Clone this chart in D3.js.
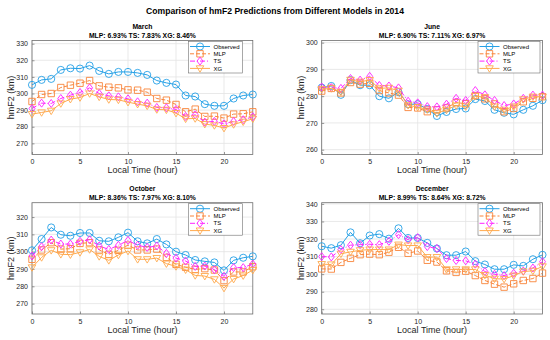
<!DOCTYPE html>
<html>
<head>
<meta charset="utf-8">
<script src="https://cdn.jsdelivr.net/npm/d3@7"></script>
<style>
  body { margin: 0; background: #fff; }
  svg { display: block; font-family: "Liberation Sans", Arial, sans-serif; }
</style>
</head>
<body>
<svg id="chart" width="550" height="340"></svg>
<script>
// hours 0..23
var hours = d3.range(0, 24);
var seriesNames = ["Observed", "MLP", "TS", "XG"];
var xTicks = [0, 5, 10, 15, 20];

// March
var marObs = [305.2, 308.2, 308.8, 314.2, 315.2, 315, 316.8, 313.6, 311.8, 313, 313, 312.4, 311.2, 307.8, 306.4, 305.4, 298.8, 298.2, 293.6, 292.6, 292.6, 297, 298.8, 299.4];
var marMLP = [295.2, 299.4, 300, 303.6, 305, 306.2, 307.8, 304.6, 303.8, 303.4, 302.2, 302, 300.8, 297, 296, 293.4, 289, 290.6, 286.2, 286.4, 285.2, 287.6, 287.8, 289];
var marTS = [291, 294.2, 294, 297, 299, 300.6, 303.4, 300, 298.6, 298, 296.8, 295, 294.2, 291.6, 291.4, 290.4, 286.2, 287.2, 282.8, 283.2, 281.8, 283.2, 284.2, 286];
var marXG = [287.6, 288.6, 289.6, 294, 296.6, 297.6, 300, 298, 296.4, 296.2, 294.8, 293.6, 292.6, 290.4, 290.2, 288.2, 284.8, 285, 281.6, 280.8, 279.2, 281.4, 283, 284.8];

// June
var junObs = [283.2, 283.8, 280.5, 286, 284.1, 284.1, 280, 279.2, 281.5, 277, 277, 275.2, 272.6, 274.1, 275.2, 275.4, 278.9, 278.2, 274.9, 273.8, 273.2, 274.9, 276.4, 278.5];
var junMLP = [281.9, 282.9, 281.2, 285.1, 284.5, 284.8, 282.1, 281.2, 280.4, 275.8, 275.6, 274.2, 274.9, 275.6, 277.6, 277.2, 280.2, 279, 277.1, 274.2, 275.4, 277.9, 279.2, 279.8];
var junTS = [283.4, 283.2, 282.9, 286.6, 286, 287.4, 284, 283.8, 283.1, 278.1, 277.5, 276.1, 276, 277, 279.2, 278.4, 282.1, 280.5, 278.4, 276.5, 277.1, 279.2, 280.4, 280.4];
var junXG = [282.6, 282.9, 281.6, 286.1, 285.4, 286, 282.9, 283.1, 282, 276.6, 275.9, 275, 273.6, 274.9, 276.5, 276.1, 280, 279.6, 276.1, 274.9, 276.1, 278.8, 279.8, 279.8];

// October
var octObs = [300.8, 307.3, 314, 309.8, 309.2, 310.8, 310.8, 306.3, 306, 308.3, 311, 306, 304.8, 307.3, 304.2, 300, 298.1, 295.2, 294.4, 293.8, 289.2, 295, 296.5, 297.3];
var octMLP = [295.6, 301, 305.2, 301.5, 301.7, 304.8, 305.2, 301, 298.5, 300.8, 303.8, 301, 301, 301.5, 296.7, 292.7, 291, 289.8, 290.2, 289.4, 283.3, 288.3, 288.3, 291.3];
var octTS = [297.5, 302.9, 306.7, 304.4, 304.4, 306, 306.9, 303.3, 301.3, 303.7, 306.5, 303.7, 302.5, 303.3, 299, 296.3, 294.6, 291.5, 291.7, 289.6, 285.8, 290.8, 290.8, 292.9];
var octXG = [290.9, 296.7, 300.8, 298.5, 298.3, 299.6, 301.3, 297.3, 295, 298.1, 300.4, 295.6, 295.6, 296.3, 293.1, 291.5, 289.6, 286.3, 285.9, 284, 279, 284.2, 286.2, 289.4];

// December
var decObs = [315.9, 314.8, 316.5, 323.8, 317.6, 322, 322.8, 320.2, 326.1, 320.6, 320.6, 317.8, 314.6, 310.8, 310.8, 312.9, 307.4, 305.5, 302.8, 302.8, 305.3, 304.7, 308.5, 311];
var decMLP = [303, 302.9, 306.7, 309, 311.1, 311.4, 311.1, 312.5, 315.3, 311.9, 313.2, 307.9, 306.9, 301.9, 301, 301.7, 299.2, 296.4, 294.3, 292.6, 294.5, 296.4, 297.5, 300.6];
var decTS = [310, 309.8, 314, 316.5, 316.8, 317, 316.8, 318.7, 322.5, 319.6, 320.8, 315.7, 314.6, 308.9, 307.8, 307.6, 305.7, 301.5, 299.9, 299.2, 300.5, 301.8, 303.5, 307.1];
var decXG = [305.7, 305.5, 311.6, 312.7, 313.6, 314, 314, 314, 316.8, 316.3, 316.3, 309.7, 309.7, 302.7, 302.7, 302.7, 302.7, 299.5, 297.4, 297.2, 299.1, 301.5, 301.9, 304.4];

var panels = [
  {name: "March", err: "MLP: 6.93%  TS: 7.83%  XG: 8.46%", data: [marObs, marMLP, marTS, marXG],
   y: [263.3, 331.9], yTicks: [270, 280, 290, 300, 310, 320, 330], left: 32, top: 40.5, bottom: 154.5, legX: 188.5, legW: 54},
  {name: "June", err: "MLP: 6.90%  TS: 7.11%  XG: 6.97%", data: [junObs, junMLP, junTS, junXG],
   y: [258.2, 300.8], yTicks: [260, 270, 280, 290, 300], left: 321.7, top: 40.5, bottom: 154.5, legX: 478, legW: 62},
  {name: "October", err: "MLP: 8.36%  TS: 7.97%  XG: 8.10%", data: [octObs, octMLP, octTS, octXG],
   y: [264, 328.3], yTicks: [270, 280, 290, 300, 310, 320], left: 32, top: 202.7, bottom: 314, legX: 188.5, legW: 54},
  {name: "December", err: "MLP: 8.99%  TS: 8.64%  XG: 8.72%", data: [decObs, decMLP, decTS, decXG],
   y: [277.3, 340.7], yTicks: [280, 290, 300, 310, 320, 330, 340], left: 321.7, top: 202.7, bottom: 314, legX: 478, legW: 62}
];

var styles = [
  {color: "#25a0e6", dash: null, marker: "circle"},
  {color: "#f8843a", dash: "4,2", marker: "square"},
  {color: "#ff22ff", dash: "5,2,1,2", marker: "diamond"},
  {color: "#ffa94d", dash: null, marker: "triangle"}
];

var svg = d3.select("#chart");
var plotW = 220.8;

svg.append("text")
  .attr("x", 275).attr("y", 14)
  .attr("text-anchor", "middle")
  .style("font-size", "8.6px").style("font-weight", "bold").style("fill", "#000")
  .text("Comparison of hmF2 Predictions from Different Models in 2014");

function markerPath(type) {
  var s = 3.2;
  if (type == "square") return "M" + (-s) + "," + (-s) + "H" + s + "V" + s + "H" + (-s) + "Z";
  if (type == "diamond") return "M0," + (-4) + "L3,0L0,4L-3,0Z";
  if (type == "triangle") return "M-3.8,-2.6L3.8,-2.6L0,3.8Z";
  return d3.symbol().type(d3.symbolCircle).size(40)();
}

panels.forEach(function (p) {
  var x = d3.scaleLinear().domain([0, 23]).range([p.left, p.left + plotW]);
  var y = d3.scaleLinear().domain(p.y).range([p.bottom, p.top]);
  var g = svg.append("g");
  var cx = p.left + plotW / 2;

  // background
  g.append("rect").attr("x", p.left).attr("y", p.top)
    .attr("width", plotW).attr("height", p.bottom - p.top).attr("fill", "#fff");

  // grid
  g.selectAll(".gx").data(xTicks).enter().append("line")
    .attr("x1", function (d) { return x(d); }).attr("x2", function (d) { return x(d); })
    .attr("y1", p.top).attr("y2", p.bottom)
    .attr("stroke", "#e3e3e3").attr("stroke-width", 0.8);
  g.selectAll(".gy").data(p.yTicks).enter().append("line")
    .attr("x1", p.left).attr("x2", p.left + plotW)
    .attr("y1", function (d) { return y(d); }).attr("y2", function (d) { return y(d); })
    .attr("stroke", "#e3e3e3").attr("stroke-width", 0.8);

  // axes
  var xAxis = g.append("g").attr("transform", "translate(0," + p.bottom + ")")
    .call(d3.axisBottom(x).tickValues(xTicks).tickSizeInner(-2.5).tickSizeOuter(0).tickPadding(5));
  var yAxis = g.append("g").attr("transform", "translate(" + p.left + ",0)")
    .call(d3.axisLeft(y).tickValues(p.yTicks).tickSizeInner(-2.5).tickSizeOuter(0).tickPadding(4));
  [xAxis, yAxis].forEach(function (a) {
    a.select(".domain").remove();
    a.selectAll("line").attr("stroke", "#555").attr("stroke-width", 0.6);
    a.selectAll("text").style("font-size", "7px").style("fill", "#262626")
      .style("font-family", "'Liberation Sans', Arial, sans-serif");
  });
  g.append("rect").attr("x", p.left).attr("y", p.top)
    .attr("width", plotW).attr("height", p.bottom - p.top)
    .attr("fill", "none").attr("stroke", "#6e6e6e").attr("stroke-width", 0.8);

  // series
  p.data.forEach(function (vals, i) {
    var st = styles[i];
    var line = d3.line().x(function (d, j) { return x(hours[j]); }).y(function (d) { return y(d); });
    g.append("path").datum(vals).attr("d", line)
      .attr("fill", "none").attr("stroke", st.color).attr("stroke-width", 1)
      .attr("stroke-dasharray", st.dash);
    g.selectAll(".m" + i).data(vals).enter().append("path")
      .attr("transform", function (d, j) { return "translate(" + x(hours[j]) + "," + y(d) + ")"; })
      .attr("d", markerPath(st.marker))
      .attr("fill", "none").attr("stroke", st.color).attr("stroke-width", 0.9);
  });

  // titles
  g.append("text").attr("x", cx).attr("y", p.top - 11.5).attr("text-anchor", "middle")
    .style("font-size", "6.8px").style("font-weight", "bold").text(p.name);
  g.append("text").attr("x", cx).attr("y", p.top - 3).attr("text-anchor", "middle")
    .style("font-size", "6.8px").style("font-weight", "bold").text(p.err);

  // axis labels
  g.append("text").attr("x", cx).attr("y", p.bottom + 18.5).attr("text-anchor", "middle")
    .style("font-size", "9px").style("fill", "#262626").text("Local Time (hour)");
  g.append("text")
    .attr("transform", "translate(" + (p.left - 18) + "," + ((p.top + p.bottom) / 2) + ") rotate(-90)")
    .attr("text-anchor", "middle")
    .style("font-size", "9px").style("fill", "#262626").text("hmF2 (km)");

  // legend
  var lg = g.append("g").attr("transform", "translate(" + p.legX + "," + (p.top + 1) + ")");
  lg.append("rect").attr("width", p.legW).attr("height", 31.5)
    .attr("fill", "#fff").attr("stroke", "#6e6e6e").attr("stroke-width", 0.6);
  seriesNames.forEach(function (n, i) {
    var st = styles[i];
    var ly = 5 + i * 7.3;
    lg.append("line").attr("x1", 1.5).attr("x2", 21.5).attr("y1", ly).attr("y2", ly)
      .attr("stroke", st.color).attr("stroke-width", 1).attr("stroke-dasharray", st.dash);
    lg.append("path").attr("transform", "translate(11.5," + ly + ")").attr("d", markerPath(st.marker))
      .attr("fill", "none").attr("stroke", st.color).attr("stroke-width", 0.9);
    lg.append("text").attr("x", 25).attr("y", ly + 2.1)
      .style("font-size", "6px").style("fill", "#000").text(n);
  });
});
</script>
</body>
</html>
